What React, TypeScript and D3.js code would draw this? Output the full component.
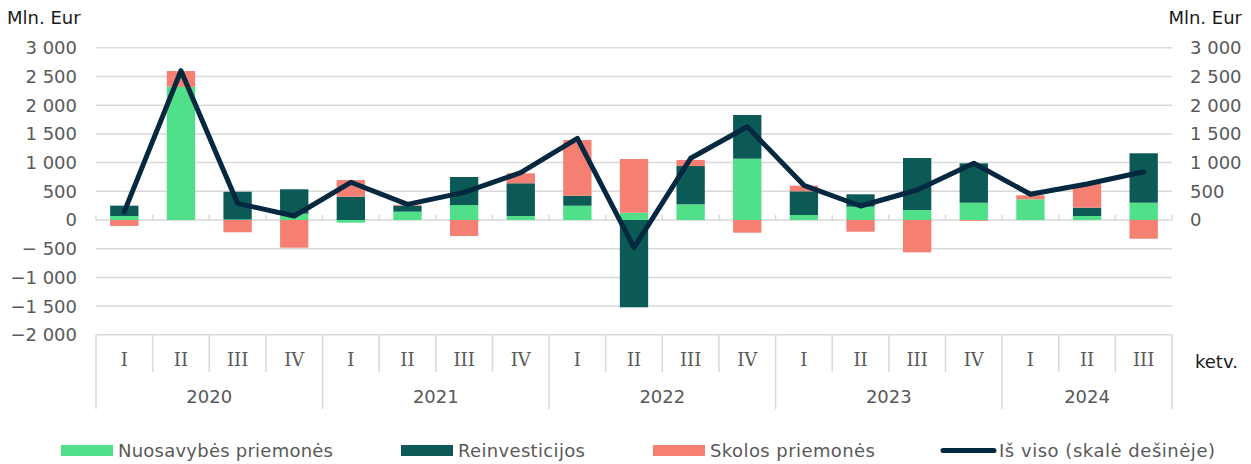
import React from "react";
import * as d3 from "d3";

const quarters = ["I","II","III","IV","I","II","III","IV","I","II","III","IV","I","II","III","IV","I","II","III"];
const years = ["2020","2021","2022","2023","2024"];
const yearSpans = [4, 4, 4, 4, 3];
const equity = [70, 2322, 10, 110, -47, 145, 261, 70, 249, 127, 273, 1068, 87, 232, 174, 301, 361, 70, 301];
const reinvest = [180, 0, 482, 425, 406, 105, 488, 570, 174, -1521, 667, 761, 413, 216, 906, 686, 0, 145, 861];
const debt = [-105, 273, -214, -482, 290, 15, -279, 174, 970, 935, 105, -221, 98, -204, -563, -15, 70, 413, -326];
const total = [145, 2601, 290, 70, 657, 273, 482, 824, 1423, -482, 1075, 1625, 604, 244, 523, 988, 448, 627, 841];
const leftTicks = [3000, 2500, 2000, 1500, 1000, 500, 0, -500, -1000, -1500, -2000];
const rightTicks = [3000, 2500, 2000, 1500, 1000, 500, 0];
const seriesNames = ["Nuosavybės priemonės", "Reinvesticijos", "Skolos priemonės"];
const lineName = "Iš viso (skalė dešinėje)";

const COLORS = ["#50E08A", "#0B5A55", "#F47F72"];
const LINE_COLOR = "#04283F";
const GRID = "#D9D9D9";
const TEXT = "#595959";
const FONT = "'DejaVu Sans', Verdana, sans-serif";

function fmt(v: number): string {
  const a = Math.abs(v);
  const s = a >= 1000 ? `${Math.floor(a / 1000)} ${String(a % 1000).padStart(3, "0")}` : String(a);
  if (v < 0) return (a < 1000 ? "\u2212 " : "\u2212") + s;
  return s;
}

export default function App() {
  const W = 1251, H = 464;
  const left = 96, right = 1172, top = 47.8, bottom = 334.8;
  const x = d3.scaleBand<number>().domain(d3.range(quarters.length)).range([left, right]).paddingInner(0.5).paddingOuter(0.25);
  const y = d3.scaleLinear().domain([-2000, 3000]).range([bottom, top]);
  const step = (right - left) / quarters.length;

  const rows = quarters.map((_, i) => ({ e: equity[i], r: reinvest[i], d: debt[i] }));
  const stack = d3.stack<any>().keys(["e", "r", "d"]).offset(d3.stackOffsetDiverging);
  const stacked = stack(rows);

  const line = d3.line<number>().x((_, i) => (x(i) as number) + x.bandwidth() / 2).y((v) => y(v));

  const quarterBottom = 372, yearBottom = 409;
  let acc = 0;
  const yearBounds = yearSpans.map((s) => { const a = acc; acc += s; return [a, acc]; });

  return (
    <svg width={W} height={H} style={{ position: "absolute", left: 0, top: 0, background: "#fff" }} fontFamily={FONT}>
      {leftTicks.map((t) => (
        t === -2000 ? null :
        <line key={"g" + t} x1={left} x2={right} y1={y(t)} y2={y(t)} stroke={GRID} strokeWidth={1.5} />
      ))}
      <line x1={left} x2={right} y1={y(-2000)} y2={y(-2000)} stroke={GRID} strokeWidth={1.5} />
      {d3.range(quarters.length + 1).map((i) => {
        const isYear = yearBounds.some((b) => b[0] === i || b[1] === i);
        const xx = left + i * step;
        return <line key={"s" + i} x1={xx} x2={xx} y1={y(-2000)} y2={isYear ? yearBottom : quarterBottom} stroke={GRID} strokeWidth={1.5} />;
      })}
      {d3.range(quarters.length + 1).map((i) => {
        const xx = left + i * step;
        return <line key={"zt" + i} x1={xx} x2={xx} y1={y(0) - 5} y2={y(0)} stroke={GRID} strokeWidth={1.5} />;
      })}
      {leftTicks.map((t) => (
        <text key={"l" + t} x={77} y={y(t)} dy="0.36em" textAnchor="end" fontSize={18} fill={TEXT}>{fmt(t)}</text>
      ))}
      {rightTicks.map((t) => (
        <text key={"r" + t} x={1190} y={y(t)} dy="0.36em" textAnchor="start" fontSize={18} fill={TEXT}>{fmt(t)}</text>
      ))}
      <text x={7} y={24} fontSize={18} fill="#1a1a1a">Mln. Eur</text>
      <text x={1242} y={24} fontSize={18} fill="#1a1a1a" textAnchor="end">Mln. Eur</text>
      {stacked.map((s, k) => (
        <g key={"b" + k} fill={COLORS[k]}>
          {s.map((d, i) => {
            const y0 = y(d[1]), y1 = y(d[0]);
            const h = Math.abs(y1 - y0);
            if (h < 0.01) return null;
            return <rect key={i} x={x(i)} y={Math.min(y0, y1)} width={x.bandwidth()} height={h} />;
          })}
        </g>
      ))}
      <path d={line(total) || ""} fill="none" stroke={LINE_COLOR} strokeWidth={5} strokeLinejoin="round" strokeLinecap="round" />
      {quarters.map((q, i) => (
        <text key={"q" + i} x={(x(i) as number) + x.bandwidth() / 2} y={360} dy="0.36em" textAnchor="middle" fontSize={18} fill={TEXT} fontFamily="'DejaVu Serif', serif">{q}</text>
      ))}
      {years.map((yr, k) => (
        <text key={"y" + k} x={left + ((yearBounds[k][0] + yearBounds[k][1]) / 2) * step} y={397} dy="0.36em" textAnchor="middle" fontSize={18} fill={TEXT}>{yr}</text>
      ))}
      <text x={1195} y={362} dy="0.36em" fontSize={18} fill="#1a1a1a">ketv.</text>
      {[
        { x: 61, tx: 118, len: 215 },
        { x: 401, tx: 458, len: 127 },
        { x: 653, tx: 710, len: 165 },
      ].map((p, k) => (
        <g key={"lg" + k}>
          <rect x={p.x} y={445} width={52} height={11} fill={COLORS[k]} />
          <text x={p.tx} y={450.5} dy="0.36em" fontSize={18} fill={TEXT} textLength={p.len} lengthAdjust="spacing">{seriesNames[k]}</text>
        </g>
      ))}
      <line x1={943} x2={994} y1={450.5} y2={450.5} stroke={LINE_COLOR} strokeWidth={5} strokeLinecap="round" />
      <text x={999} y={450.5} dy="0.36em" fontSize={18} fill={TEXT} textLength={216} lengthAdjust="spacing">{lineName}</text>
    </svg>
  );
}
